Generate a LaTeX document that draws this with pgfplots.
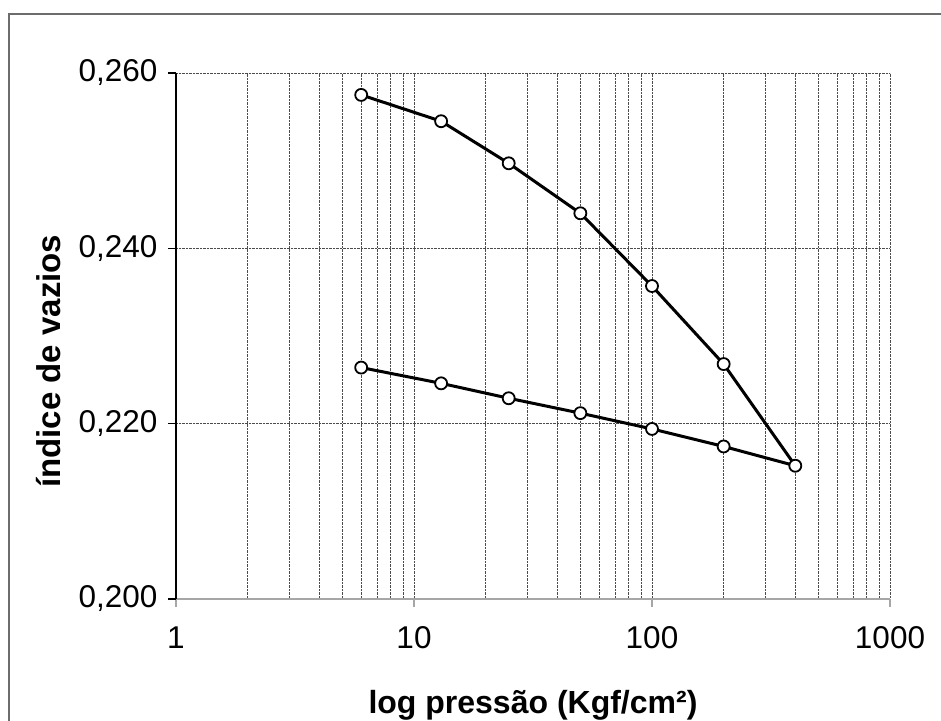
\documentclass[border=0pt]{standalone}
\usepackage{pgfplots}
\pgfplotsset{compat=1.18}
\usepackage{fontspec}
\setmainfont{Liberation Sans}

\begin{document}
\begin{tikzpicture}[x=1pt,y=1pt]
\path[use as bounding box] (0,0) rectangle (941,720);
\draw[gray!85!black, line width=1.2pt] (9,-20) rectangle (980,706);
\begin{axis}[
  at={(176pt,121pt)}, anchor=south west,
  scale only axis, width=714pt, height=526pt,
  xmode=log, xmin=1, xmax=1000,
  ymin=0.2, ymax=0.26,
  xtick={1,10,100,1000}, xticklabels={1,10,100,1000},
  ytick={0.2,0.22,0.24,0.26},
  /pgf/number format/.cd, fixed, fixed zerofill, precision=3, use comma, assume math mode=true,
  /pgfplots/.cd,
  axis x line*=bottom, axis y line*=left,
  x axis line style={-, gray!70, line width=1.6pt},
  y axis line style={-, black, line width=1.2pt},
  xmajorgrids, xminorgrids, ymajorgrids,
  major grid style={densely dotted, black!70, line width=0.9pt},
  minor grid style={densely dotted, black!70, line width=0.9pt},
  tick align=outside,
  major tick length=8pt, minor tick length=0pt,
  x tick style={gray!70, line width=1.6pt},
  y tick style={black, line width=1.2pt},
  tick label style={font=\fontsize{31.5}{34}\selectfont},
  yticklabel style={xshift=-7pt},
  xticklabel style={yshift=-16pt},
  xlabel={\textbf{log pressão (Kgf/cm²)}},
  ylabel={\textbf{índice de vazios}},
  xlabel style={font=\fontsize{32}{36}\selectfont, yshift=-35pt},
  ylabel style={font=\fontsize{33}{36}\selectfont,
    at={(axis description cs:-0.156,0.452)}, anchor=south, rotate=0},
  clip=false,
]
\addplot[black, line width=3pt, mark=*, mark size=6pt,
  mark options={fill=white, draw=black, line width=1.8pt}]
  coordinates {
  (6,0.2575) (13,0.2545) (25,0.2497) (50,0.2440) (100,0.2357) (200,0.2268) (400,0.2152)
  (200,0.2174) (100,0.2194) (50,0.2212) (25,0.2229) (13,0.2246) (6,0.2264)
  };
\end{axis}
\end{tikzpicture}
\end{document}
